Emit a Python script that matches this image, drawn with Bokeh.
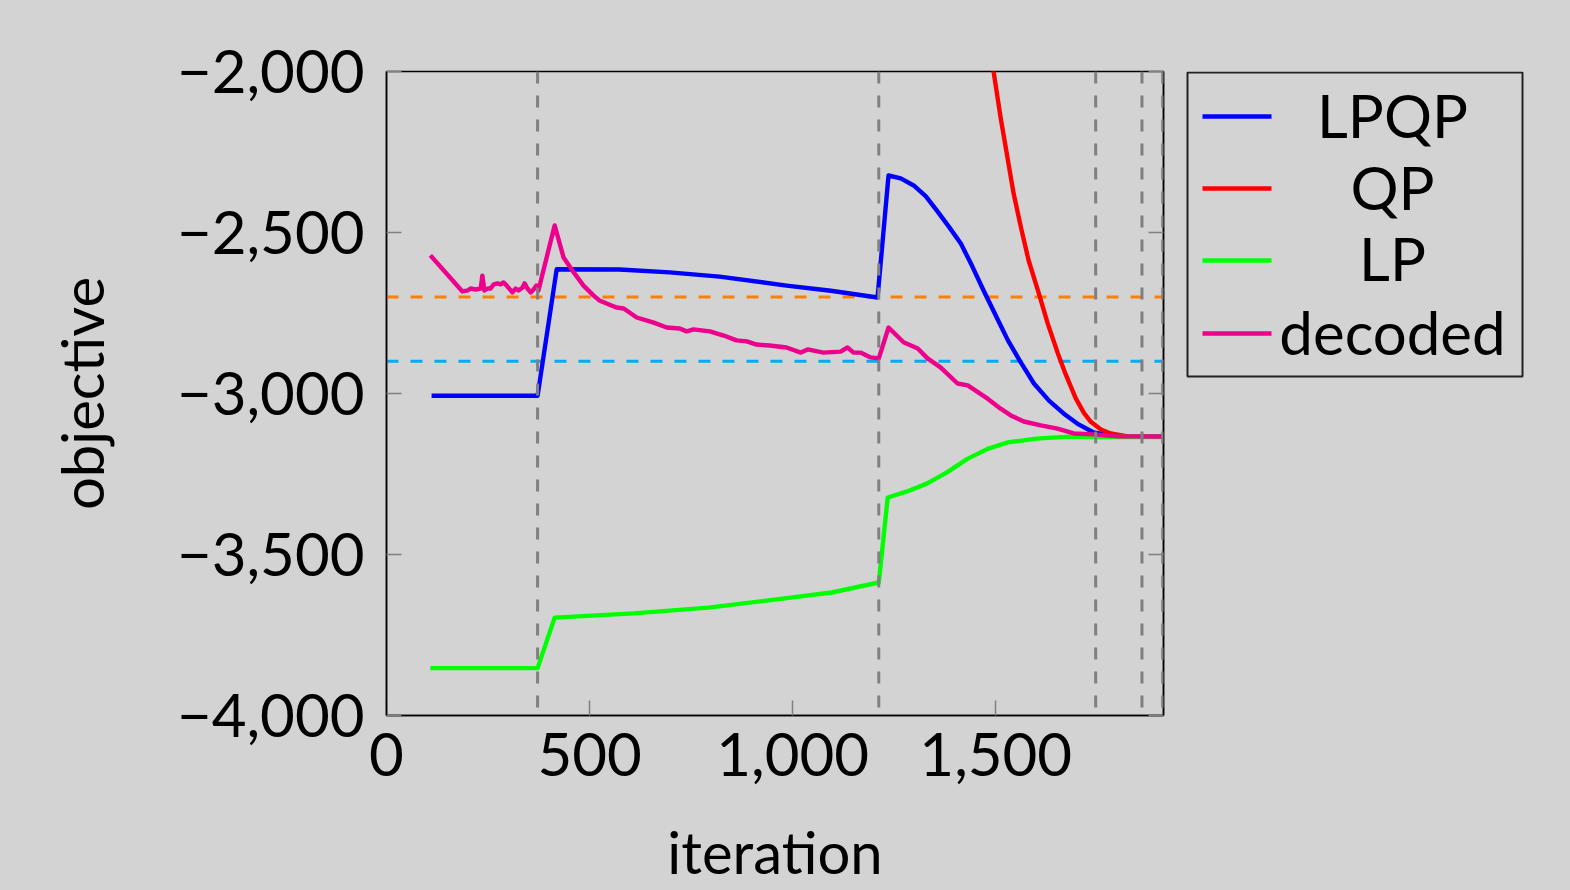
from bokeh.plotting import figure
from bokeh.layouts import row
from bokeh.models import (Range1d, LinearAxis, Span, CustomJSTickFormatter, FixedTicker)
from bokeh.core.properties import value
from bokeh.embed import file_html
from bokeh.resources import INLINE

# ---------------- data ----------------
lpqp_x = [111, 372, 419, 574, 697, 820, 985, 1094, 1209, 1236, 1266, 1298, 1328, 1357,
          1384, 1414, 1441, 1470, 1500, 1530, 1559, 1594, 1631, 1667, 1704, 1741,
          1783, 1820, 1913]
lpqp_y = [-3007, -3007, -2614, -2615, -2624, -2637, -2665, -2681, -2702, -2323, -2332,
          -2354, -2388, -2435, -2481, -2534, -2602, -2680, -2758, -2835, -2898, -2969,
          -3022, -3062, -3096, -3121, -3130, -3134, -3134]

qp_x = [1470, 1495, 1512, 1530, 1544, 1562, 1581, 1606, 1628, 1653, 1672, 1697, 1717,
        1734, 1759, 1783, 1825, 1913]
qp_y = [-1790, -2003, -2143, -2276, -2379, -2484, -2587, -2689, -2783, -2876, -2940,
        -3015, -3060, -3088, -3112, -3124, -3133, -3134]

lp_x = [108, 372, 414, 608, 793, 975, 1096, 1212, 1234, 1280, 1330, 1380, 1430,
        1480, 1530, 1600, 1680, 1746, 1800, 1913]
lp_y = [-3853, -3853, -3696, -3683, -3665, -3637, -3618, -3587, -3323, -3305, -3280,
        -3245, -3203, -3172, -3152, -3140, -3134, -3135, -3135, -3135]

dec_x = [108, 187, 200, 207, 219, 232, 236, 241, 249, 256, 264, 273, 281, 288, 296,
         300, 310, 318, 325, 335, 340, 347, 355, 362, 369, 374, 414, 436, 461, 485,
         510, 524, 566, 584, 616, 658, 690, 722, 739, 756, 796, 830, 862, 887, 911,
         943, 985, 1020, 1037, 1076, 1118, 1135, 1150, 1167, 1192, 1212, 1236, 1273,
         1308, 1332, 1364, 1406, 1431, 1480, 1512, 1537, 1569, 1611, 1652, 1692,
         1741, 1800, 1913]
dec_y = [-2571, -2683, -2680, -2674, -2677, -2674, -2634, -2680, -2674, -2674, -2661,
         -2658, -2661, -2655, -2665, -2671, -2686, -2674, -2680, -2671, -2658, -2674,
         -2686, -2677, -2665, -2680, -2478, -2578, -2624, -2665, -2696, -2711, -2733,
         -2736, -2764, -2780, -2795, -2798, -2807, -2801, -2807, -2820, -2835, -2838,
         -2848, -2851, -2857, -2873, -2863, -2873, -2870, -2857, -2873, -2873, -2888,
         -2891, -2795, -2841, -2860, -2891, -2919, -2969, -2975, -3016, -3047, -3068,
         -3087, -3099, -3109, -3124, -3127, -3133, -3134]

ref_levels = [-2700, -2900]
ref_colors = ["#FF8000", "#00AEEF"]
phase_iters = [372, 1212, 1746, 1860, 1911]

series_names = ["LPQP", "QP", "LP", "decoded"]
series_colors = ["#0000FF", "#FF0000", "#00FF00", "#EC008C"]

x_ticks = [0, 500, 1000, 1500]
y_ticks = [-4000, -3500, -3000, -2500, -2000]

BG = "#D3D3D3"
FONT = "Lato"

p = figure(width=1180, height=890, output_backend="svg", toolbar_location=None,
           x_range=Range1d(0, 1913), y_range=Range1d(-4000, -2000),
           min_border_left=386, min_border_right=17, min_border_top=71,
           min_border_bottom=175, background_fill_color=BG, border_fill_color=BG)
p.grid.visible = False
p.outline_line_color = "black"
p.outline_line_width = 1.5

fmt = CustomJSTickFormatter(code="""
const s = Math.abs(tick).toLocaleString('en-US');
return tick < 0 ? '\u2212' + s : s;
""")

def style_axis(ax):
    ax.major_tick_in = 15
    ax.major_tick_out = 0
    ax.minor_tick_in = 0
    ax.minor_tick_out = 0
    ax.major_tick_line_color = "#808080"
    ax.major_tick_line_width = 1.5
    ax.axis_line_color = "black"
    ax.axis_line_width = 1.5
    ax.major_label_text_font = FONT
    ax.major_label_text_font_size = "60px"
    ax.major_label_text_color = "black"
    ax.axis_label_text_font = FONT
    ax.axis_label_text_font_size = "58px"
    ax.axis_label_text_font_style = "normal"
    ax.axis_label_text_color = "black"

xa = p.xaxis[0]
ya = p.yaxis[0]
xa.ticker = FixedTicker(ticks=x_ticks)
ya.ticker = FixedTicker(ticks=y_ticks)
xa.formatter = fmt
ya.formatter = fmt
style_axis(xa)
style_axis(ya)
xa.axis_label = "iteration"
ya.axis_label = "objective"
xa.major_label_standoff = 17
ya.major_label_standoff = 22
xa.axis_label_standoff = 38
ya.axis_label_standoff = 58

ra = LinearAxis(ticker=FixedTicker(ticks=y_ticks),
                formatter=CustomJSTickFormatter(code="return ''"))
style_axis(ra)
ra.major_label_text_font_size = "1px"
ra.major_label_standoff = 0
p.add_layout(ra, "right")

# horizontal reference lines (under the data)
for lvl, col in zip(ref_levels, ref_colors):
    p.add_layout(Span(location=lvl, dimension="width", line_color=col,
                      line_width=3, line_dash="12 12", level="underlay"))

# data series
for xs, ys, col in zip([lpqp_x, qp_x, lp_x, dec_x], [lpqp_y, qp_y, lp_y, dec_y],
                       series_colors):
    p.line(xs, ys, line_color=col, line_width=4.4, line_join="round")

# vertical phase lines (over the data)
for it in phase_iters:
    p.add_layout(Span(location=it, dimension="height", line_color="#808080",
                      line_width=3, line_dash="12 12", level="overlay"))

# ---------------- legend panel (page pixel coordinates) ----------------
leg = figure(width=390, height=890, output_backend="svg", toolbar_location=None,
             x_range=Range1d(1180, 1570), y_range=Range1d(715, 71),
             x_axis_location=None, y_axis_location=None,
             min_border_left=0, min_border_right=0,
             min_border_top=71, min_border_bottom=175,
             background_fill_alpha=0, border_fill_color=BG)
leg.grid.visible = False
leg.outline_line_color = None

leg.quad(left=[1187], right=[1522], top=[72], bottom=[376], fill_color=None,
         line_color="#222222", line_width=2)
leg_line_y = [116, 188, 260, 333]
leg_text_y = [114, 186, 257, 331]
leg.segment(x0=[1202] * 4, x1=[1271] * 4, y0=leg_line_y, y1=leg_line_y,
            line_color=series_colors, line_width=4.5)
leg.text(x=[1392] * 4, y=leg_text_y, text=series_names, text_align="center",
         text_baseline="alphabetic", text_font=value(FONT), text_font_size="60px",
         text_color="black")

layout = row(p, leg, spacing=0, styles={"background-color": BG})
open("out.html", "w").write(file_html(layout, INLINE))
